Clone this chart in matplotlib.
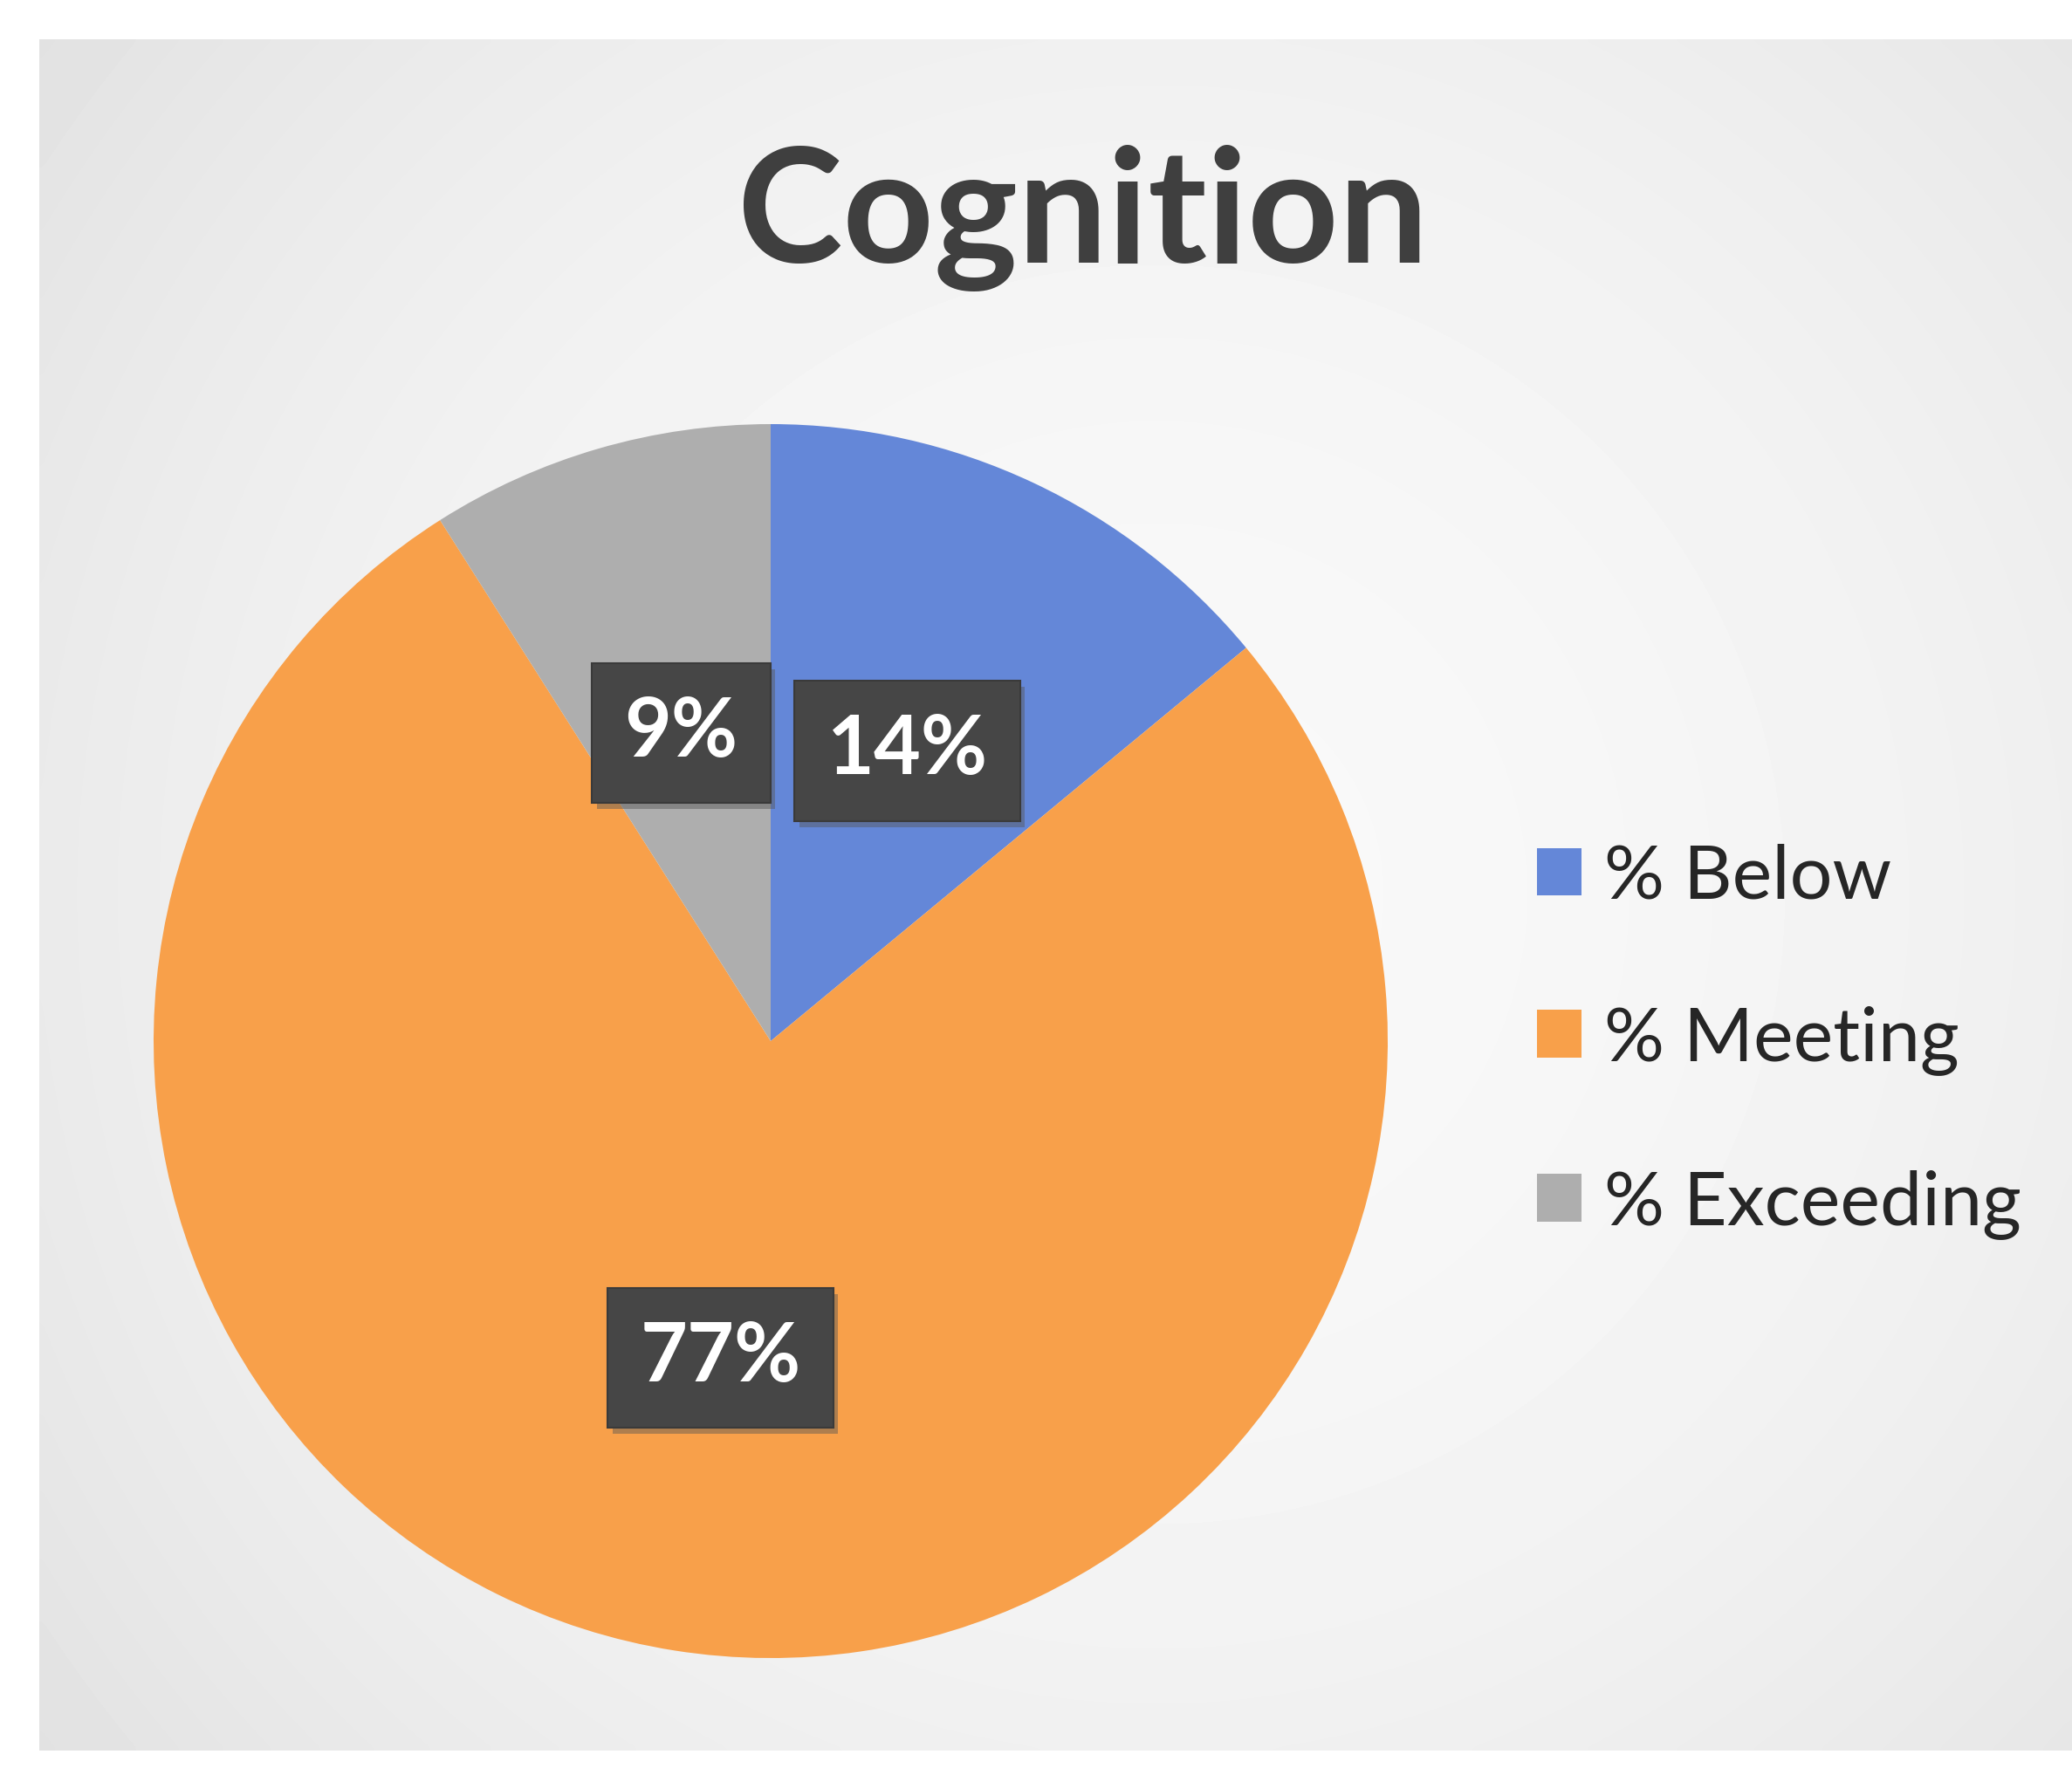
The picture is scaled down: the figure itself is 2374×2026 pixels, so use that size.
import matplotlib
matplotlib.use("Agg")
import matplotlib.pyplot as plt
import matplotlib.patheffects as pe
import numpy as np

# chart values
categories = ["% Below", "% Meeting", "% Exceeding"]
shares = [14, 77, 9]
slice_colors = ["#6487D8", "#F8A04A", "#AEAEAE"]
title = "Cognition"

W, H, DPI = 2374, 2026, 100
fig = plt.figure(figsize=(W / DPI, H / DPI), dpi=DPI, facecolor="white")

# photographed chart area: light gray with a soft vignette
bg = fig.add_axes([45 / W, 20 / H, 1 - 45 / W, (2006 - 45) / H])
yy, xx = np.mgrid[0:1:300j, 0:1:300j]
shade = 0.975 - 0.11 * ((xx - 0.55) ** 2 * 1.7 + (yy - 0.5) ** 2 * 1.2)
bg.imshow(shade, cmap="gray", vmin=0, vmax=1, aspect="auto", interpolation="bicubic")
bg.set_axis_off()

# pie
cx, cy, r = 883, 2026 - 1193, 707
ax = fig.add_axes([(cx - r) / W, (cy - r) / H, 2 * r / W, 2 * r / H])
wedges, _, autotexts = ax.pie(
    shares,
    colors=slice_colors,
    startangle=90,
    counterclock=False,
    autopct="%1.0f%%",
    pctdistance=0.52,
    wedgeprops=dict(linewidth=0),
    textprops=dict(color="white", fontsize=67, fontweight="bold", family="Lato"),
)
ax.set_xlim(-1, 1)
ax.set_ylim(-1, 1)

for t in autotexts:
    t.set_bbox(dict(boxstyle="square,pad=0.4", facecolor="#464646", edgecolor="#3a3a3a", linewidth=1.5))
    t.get_bbox_patch().set_path_effects(
        [pe.SimplePatchShadow(offset=(4, -5), shadow_rgbFace="#555555", alpha=0.45), pe.Normal()]
    )

fig.text(1241 / W, 1 - 250 / H, title, ha="center", va="center",
         fontsize=131, fontweight="bold", color="#3f3f3f", family="Lato")

fig.legend(
    wedges,
    categories,
    loc="center left",
    bbox_to_anchor=(1683 / W, 1 - 1193 / H),
    frameon=False,
    prop=dict(family="Lato", size=62),
    handlelength=0.6,
    handleheight=0.6,
    handletextpad=0.3,
    labelspacing=1.25,
    labelcolor="#262626",
)

fig.savefig("out.png", dpi=DPI, facecolor="white")
